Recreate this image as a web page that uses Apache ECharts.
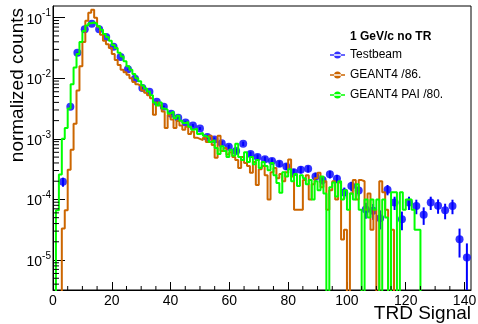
<!DOCTYPE html>
<html>
<head>
<meta charset="utf-8">
<script src="https://cdn.jsdelivr.net/npm/echarts@6/dist/echarts.min.js"></script>
<style>
  html, body { margin: 0; padding: 0; background: #fff; }
  #chart { width: 478px; height: 324px; }
</style>
</head>
<body>
<div id="chart"></div>
<script>
// Testbeam points: TRD signal, normalized counts, stat. error
const beamX = [3.4, 5.9, 8.3, 10.8, 13.2, 15.7, 18.1, 20.6, 23.0, 25.5,
  27.9, 30.4, 32.8, 35.3, 37.7, 40.2, 42.6, 45.1, 47.6, 50.0,
  52.5, 54.9, 57.4, 59.8, 62.3, 64.7, 67.2, 69.6, 72.1, 74.5,
  77.0, 79.4, 81.9, 84.3, 86.8, 89.3, 91.7, 94.2, 96.6, 99.1,
  101.5, 104.0, 106.4, 108.9, 111.3, 113.8, 116.2, 118.7, 121.1, 123.6,
  126.1, 128.5, 131.0, 133.4, 135.9, 138.3, 140.8];
const beamY = [1.95e-4, 3.39e-3, 2.63e-2, 6.46e-2, 7.94e-2, 6.46e-2, 4.79e-2, 3.31e-2, 2.24e-2, 1.41e-2,
  9.8e-3, 6.9e-3, 6.0e-3, 4.1e-3, 3.4e-3, 2.6e-3, 2.24e-3, 1.86e-3, 1.66e-3, 1.48e-3,
  1.07e-3, 9.8e-4, 8.5e-4, 7.4e-4, 6.3e-4, 8.3e-4, 5.6e-4, 5.0e-4, 4.6e-4, 4.3e-4,
  3.9e-4, 3.5e-4, 2.8e-4, 3.1e-4, 3.2e-4, 2.4e-4, 2.1e-4, 2.6e-4, 2.2e-4, 1.3e-4,
  1.66e-4, 1.41e-4, 6.8e-5, 6.5e-5, 4.9e-5, 1.45e-4, 8.9e-5, 4.7e-5, 8.9e-5, 7.8e-5,
  5.6e-5, 8.9e-5, 7.9e-5, 6.6e-5, 7.8e-5, 2.2e-5, 1.1e-5];
const beamErr = [3.3e-5, 1.38e-4, 3.8e-4, 6.0e-4, 6.7e-4, 6.0e-4, 5.2e-4, 4.3e-4, 3.5e-4, 2.8e-4,
  2.3e-4, 2.0e-4, 1.8e-4, 1.5e-4, 1.4e-4, 1.2e-4, 1.1e-4, 1.0e-4, 9.6e-5, 9.1e-5,
  7.7e-5, 7.4e-5, 6.9e-5, 6.4e-5, 5.9e-5, 6.8e-5, 5.6e-5, 5.3e-5, 5.1e-5, 4.9e-5,
  4.7e-5, 4.4e-5, 4.0e-5, 4.2e-5, 4.2e-5, 3.7e-5, 3.4e-5, 3.8e-5, 3.5e-5, 2.7e-5,
  3.0e-5, 2.8e-5, 2.0e-5, 1.9e-5, 1.7e-5, 2.8e-5, 2.2e-5, 1.6e-5, 2.2e-5, 2.1e-5,
  1.8e-5, 2.2e-5, 2.1e-5, 1.9e-5, 2.1e-5, 1.1e-5, 7.8e-6];

// GEANT4 histograms, one bin per signal unit starting at 0,
// read off the log axis as log10(counts); null = empty bin
const g4Log = [null, null, null, -4.48, -4.18, -3.51, -3.18, -2.75, -2.20, -1.80,
  -1.40, -1.05, -0.92, -0.87, -1.00, -1.15, -1.28, -1.38, -1.44, -1.50,
  -1.60, -1.70, -1.78, -1.86, -1.90, -1.94, -2.00, -2.06, -2.10, -2.13,
  -2.20, -2.24, -2.28, -2.33, -2.60, -2.40, -2.45, -2.55, -2.82, -2.60,
  -2.68, -2.82, -2.70, -2.78, -2.85, -2.80, -2.92, -2.88, -2.98, -3.00,
  -3.02, -2.98, -3.05, -2.95, -3.10, -3.31, -2.95, -3.20, -3.15, -3.26,
  -3.22, -3.30, -3.35, -3.48, -3.30, -3.40, -3.45, -3.56, -3.38, -3.76,
  -3.50, -3.45, -3.60, -4.00, -3.55, -3.48, -3.65, -3.58, -3.70, -3.55,
  -3.34, -3.62, -4.17, -4.17, -4.17, -3.68, -3.60, -4.00, -3.75, -3.65,
  -3.56, -3.80, -3.70, -4.17, -3.85, -3.70, -4.00, -3.72, -4.66, -4.50,
  null, -3.90, -3.68, -4.00, -3.68, -3.70, -4.17, -3.90, -4.50, -4.17,
  null, -3.70, -3.88, -4.17, null, -4.50, null];
const g4PaiLog = [null, -4.18, -3.59, -3.00, -2.82, -2.50, -2.10, -1.82, -1.60, -1.40,
  -1.22, -1.13, -1.09, -1.08, -1.10, -1.14, -1.20, -1.27, -1.32, -1.38,
  -1.45, -1.50, -1.58, -1.64, -1.72, -1.80, -1.86, -1.93, -2.00, -2.05,
  -2.12, -2.17, -2.22, -2.28, -2.40, -2.45, -2.40, -2.50, -2.52, -2.58,
  -2.55, -2.66, -2.62, -2.70, -2.74, -2.72, -2.80, -2.85, -2.83, -2.92,
  -2.90, -2.95, -2.98, -3.05, -3.02, -3.15, -3.25, -3.12, -3.20, -3.30,
  -3.18, -3.28, -3.08, -3.30, -3.35, -3.22, -3.38, -3.30, -3.42, -3.35,
  -3.48, -3.38, -3.45, -3.52, -3.40, -3.60, -3.73, -3.89, -3.55, -3.62,
  -3.50, -3.70, -3.58, -3.78, -3.60, -3.65, -3.75, -3.68, -4.00, -3.70,
  -3.85, -3.62, -3.90, null, -3.80, -3.72, -3.95, -3.70, -4.00, -3.85,
  -4.17, -3.90, -4.00, -3.75, -4.17, null, -4.00, -4.30, -4.00, -4.17,
  -4.00, null, -4.00, -4.30, null, -3.88, -3.88, null, -3.88, -4.17,
  -4.00, -4.00, -4.17, -4.50, -4.50, null];

const xMinorTicks = [5, 10, 15, 25, 30, 35, 45, 50, 55, 65, 70, 75, 85, 90, 95,
  105, 110, 115, 125, 130, 135];
const yMinorTicks = [4e-6, 5e-6, 6e-6, 7e-6, 8e-6, 9e-6,
  2e-5, 3e-5, 4e-5, 5e-5, 6e-5, 7e-5, 8e-5, 9e-5,
  2e-4, 3e-4, 4e-4, 5e-4, 6e-4, 7e-4, 8e-4, 9e-4,
  2e-3, 3e-3, 4e-3, 5e-3, 6e-3, 7e-3, 8e-3, 9e-3,
  2e-2, 3e-2, 4e-2, 5e-2, 6e-2, 7e-2, 8e-2, 9e-2];

const X_MAX = 142.2;
const Y_MIN = 3.2e-6;
const Y_MAX = 0.156;
const EMPTY = 1e-7; // empty bins drawn below the frame, clipped

const BLUE = '#0000ff';
const ORANGE = '#cc6600';
const GREEN = '#00ff00';
const FONT = '"Liberation Sans", Arial, Helvetica, sans-serif';
const legendIcon = 'path://M0,2.7h15v1.6h-15z M4,3.5a3.5,3.5 0 1,0 7,0a3.5,3.5 0 1,0 -7,0z';

const steps = (logs) => logs.map((lv, i) => [i, lv === null ? EMPTY : Math.pow(10, lv)]);

const chart = echarts.init(document.getElementById('chart'), null, { renderer: 'canvas' });

const option = {
  animation: false,
  textStyle: { fontFamily: FONT, color: '#000' },
  grid: {
    left: 53, right: 7, top: 6, bottom: 34,
    outerBoundsMode: 'none', containLabel: false,
    show: true, borderColor: '#000', borderWidth: 1
  },
  title: {
    text: '1 GeV/c no TR',
    left: 350, top: 31, padding: 0,
    textStyle: { fontFamily: FONT, fontSize: 12, fontWeight: 'bold', color: '#000' }
  },
  legend: {
    orient: 'vertical',
    left: 330, top: 49, padding: 0,
    itemWidth: 15, itemHeight: 7, itemGap: 8,
    selectedMode: false,
    textStyle: { fontFamily: FONT, fontSize: 12, color: '#000' },
    data: [
      { name: 'Testbeam', icon: legendIcon, itemStyle: { color: BLUE, borderWidth: 0 } },
      { name: 'GEANT4 /86.', icon: legendIcon, itemStyle: { color: ORANGE, borderWidth: 0 } },
      { name: 'GEANT4 PAI /80.', icon: legendIcon, itemStyle: { color: GREEN, borderWidth: 0 } }
    ]
  },
  xAxis: {
    type: 'value', min: 0, max: X_MAX, interval: 20,
    axisLine: { show: true, lineStyle: { color: '#000' } },
    axisTick: { inside: true, length: 8, lineStyle: { color: '#000' } },
    splitLine: { show: false },
    axisLabel: { fontSize: 14, color: '#000', margin: 4, showMaxLabel: false }
  },
  yAxis: {
    type: 'log', logBase: 10, min: Y_MIN, max: Y_MAX,
    axisLine: { show: true, lineStyle: { color: '#000' } },
    axisTick: { inside: true, length: 12, lineStyle: { color: '#000' } },
    splitLine: { show: false },
    axisLabel: {
      margin: 2, color: '#000', showMinLabel: false, showMaxLabel: false,
      formatter: (v) => '{b|10}{s|' + Math.round(Math.log10(v)) + '}',
      rich: {
        b: { fontSize: 14, lineHeight: 18, verticalAlign: 'bottom', fontFamily: FONT, color: '#000' },
        s: { fontSize: 10, lineHeight: 10, verticalAlign: 'top', fontFamily: FONT, color: '#000' }
      }
    }
  },
  graphic: [
    {
      type: 'text', x: 27, y: 8, rotation: Math.PI / 2,
      style: { text: 'normalized counts', font: '19px ' + FONT, fill: '#000', align: 'right', verticalAlign: 'bottom' }
    },
    {
      type: 'text', x: 471, y: 323,
      style: { text: 'TRD Signal', font: '19px ' + FONT, fill: '#000', align: 'right', verticalAlign: 'bottom' }
    }
  ],
  series: [
    {
      name: 'beam errors', type: 'custom', clip: true, silent: true,
      data: beamX.map((x, i) => [x, beamY[i], beamErr[i]]),
      renderItem: (params, api) => {
        const x = api.value(0), y = api.value(1), e = api.value(2);
        const top = api.coord([x, y + e]);
        const bot = api.coord([x, Math.max(y - e, EMPTY)]);
        return { type: 'line', shape: { x1: top[0], y1: top[1], x2: bot[0], y2: bot[1] }, style: { stroke: BLUE, lineWidth: 2 } };
      }
    },
    {
      name: 'Testbeam', type: 'scatter', symbol: 'circle', symbolSize: 8,
      itemStyle: { color: BLUE },
      data: beamX.map((x, i) => [x, beamY[i]])
    },
    {
      name: 'GEANT4 /86.', type: 'line', step: 'end', showSymbol: false, symbol: 'none', clip: true,
      itemStyle: { color: ORANGE }, lineStyle: { color: ORANGE, width: 2 },
      data: steps(g4Log)
    },
    {
      name: 'GEANT4 PAI /80.', type: 'line', step: 'end', showSymbol: false, symbol: 'none', clip: true,
      itemStyle: { color: GREEN }, lineStyle: { color: GREEN, width: 2 },
      data: steps(g4PaiLog)
    },
    {
      name: 'x minor ticks', type: 'custom', silent: true, z: 5,
      data: xMinorTicks.map((v) => [v, Y_MIN]),
      renderItem: (params, api) => {
        const p = api.coord([api.value(0), Y_MIN]);
        return { type: 'line', shape: { x1: p[0], y1: p[1], x2: p[0], y2: p[1] - 4 }, style: { stroke: '#000', lineWidth: 1 } };
      }
    },
    {
      name: 'y minor ticks', type: 'custom', silent: true, z: 5,
      data: yMinorTicks.map((v) => [0, v]),
      renderItem: (params, api) => {
        const p = api.coord([0, api.value(1)]);
        return { type: 'line', shape: { x1: p[0], y1: p[1], x2: p[0] + 6, y2: p[1] }, style: { stroke: '#000', lineWidth: 1 } };
      }
    }
  ]
};

chart.setOption(option);
</script>
</body>
</html>
